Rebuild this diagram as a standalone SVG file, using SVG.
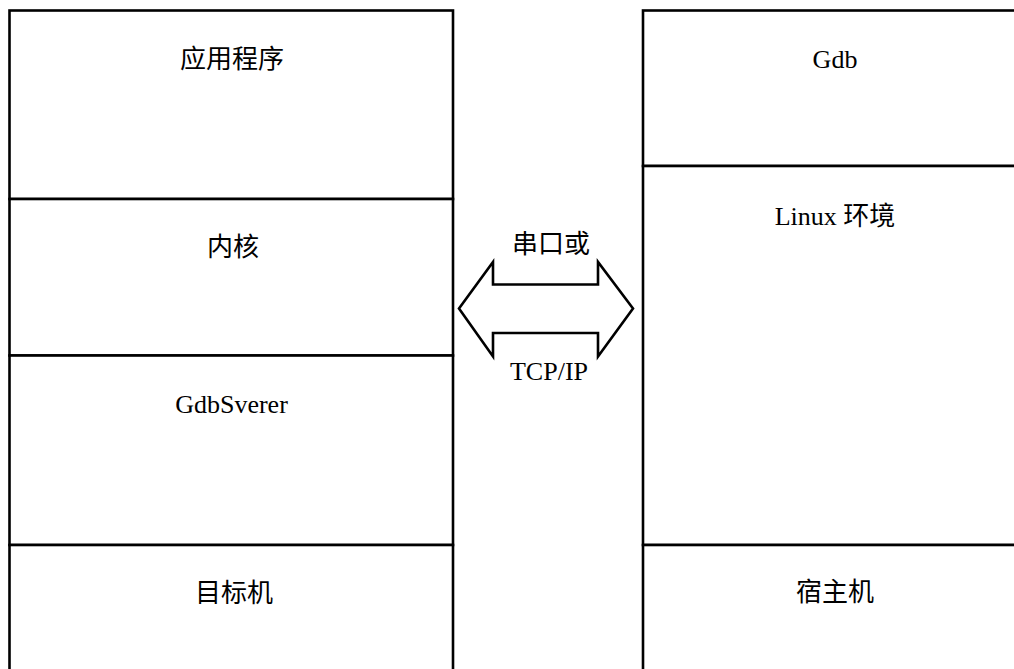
<svg xmlns="http://www.w3.org/2000/svg" width="1014" height="669" viewBox="0 0 1014 669">
<style>
.box{fill:#fff;stroke:#000;stroke-width:2.6}
.lbl{font-family:"Liberation Serif","Noto Sans CJK SC",serif;font-size:26px;fill:#000;text-anchor:middle}
.arrow{fill:#fff;stroke:#000;stroke-width:2.6;stroke-linejoin:miter}
</style>
<rect x="0" y="0" width="1014" height="669" fill="#fff"/>
<g id="app"><rect class="box" x="9.5" y="10.5" width="443.5" height="188.5"/><text class="lbl" x="232" y="68">应用程序</text></g>
<g id="kernel"><rect class="box" x="9.5" y="199" width="443.5" height="156.5"/><text class="lbl" x="233" y="256">内核</text></g>
<g id="gdbserver"><rect class="box" x="9.5" y="355.5" width="443.5" height="189.5"/><text class="lbl" x="231.5" y="413">GdbSverer</text></g>
<g id="target"><rect class="box" x="9.5" y="545" width="443.5" height="140"/><text class="lbl" x="234" y="602">目标机</text></g>
<g id="gdb"><rect class="box" x="643" y="10.5" width="400" height="155.5"/><text class="lbl" x="835" y="68">Gdb</text></g>
<g id="linux"><rect class="box" x="643" y="166" width="400" height="379"/><text class="lbl" x="835" y="225">Linux 环境</text></g>
<g id="host"><rect class="box" x="643" y="545" width="400" height="140"/><text class="lbl" x="835" y="601">宿主机</text></g>
<g id="connectors">
<polygon class="arrow" points="459,308.5 493,262 493,284.5 598,284.5 598,262 633,308.5 598,356.5 598,333 493,333 493,356.5"/>
<text class="lbl" x="551" y="253">串口或</text>
<text class="lbl" x="549" y="380">TCP/IP</text>
</g>
</svg>
